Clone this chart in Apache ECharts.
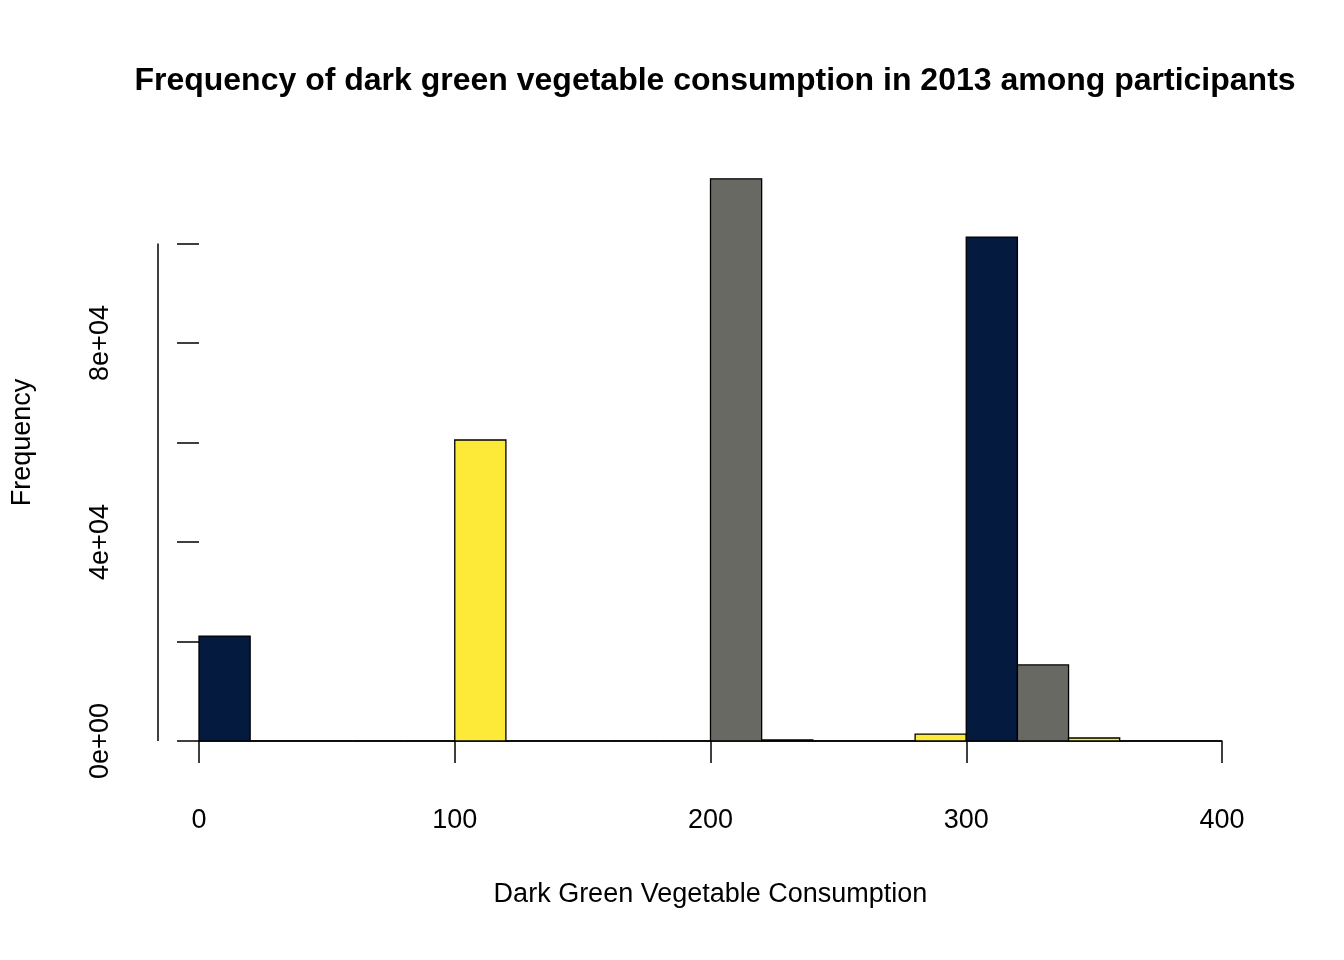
<!DOCTYPE html>
<html><head><meta charset="utf-8">
<script src="https://cdn.jsdelivr.net/npm/echarts@6/dist/echarts.min.js"></script>
<style>html,body{margin:0;padding:0;background:#fff}#c{width:1344px;height:960px}</style>
</head><body><div id="c"></div>
<script>
const binStarts = [0,20,40,60,80,100,120,140,160,180,200,220,240,260,280,300,320,340,360,380];
const binWidth = 20;
const counts = [21100,0,0,0,0,60500,0,0,0,0,113000,200,0,0,1400,101300,15300,600,0,0];
const palette = ['#041a3f','#696963','#fde937'];
const yTicks = [0,20000,40000,60000,80000,100000];
const yLabels = [0,40000,80000];
const xTicks = [0,100,200,300,400];
const fmt = v => v===0?'0e+00':(v/10000).toFixed(0)+'e+04';
const chart = echarts.init(document.getElementById('c'));
const F = 'Liberation Sans, Arial, sans-serif';
chart.setOption({
  animation:false,
  title:{text:'Frequency of dark green vegetable consumption in 2013 among participants',left:710,top:60,textAlign:'center',
    textStyle:{fontFamily:F,fontWeight:'bold',fontSize:32,color:'#000'}},
  grid:{left:199,right:122,top:144,bottom:219},
  xAxis:{type:'value',min:0,max:400,offset:22,name:'Dark Green Vegetable Consumption',nameLocation:'middle',nameGap:118,
    nameTextStyle:{fontFamily:F,fontSize:27,color:'#000'},splitLine:{show:false},
    axisLine:{lineStyle:{color:'#000',width:1.5}},
    axisTick:{customValues:xTicks,length:22,inside:false,lineStyle:{color:'#000',width:1.5}},
    axisLabel:{customValues:xTicks,fontFamily:F,fontSize:27,color:'#000',margin:44}},
  yAxis:{type:'value',min:0,max:120000,offset:41,name:'Frequency',nameLocation:'middle',nameGap:122,
    nameTextStyle:{fontFamily:F,fontSize:27,color:'#000'},splitLine:{show:false},
    axisLine:{show:false},
    axisTick:{customValues:yTicks,length:22,lineStyle:{color:'#000',width:1.5}},
    axisLabel:{customValues:yLabels,formatter:fmt,rotate:90,fontFamily:F,fontSize:27,color:'#000',margin:44}},
  series:[{
    type:'custom',
    data:binStarts.map((s,i)=>[s,counts[i],i]),
    renderItem:(p,api)=>{
      const a=api.coord([api.value(0),0]), b=api.coord([api.value(0)+binWidth,api.value(1)]);
      return {type:'rect',shape:{x:a[0],y:b[1],width:b[0]-a[0],height:a[1]-b[1]},
        style:{fill:palette[api.value(2)%3],stroke:'#000',lineWidth:1.3}};
    }
  },{
    type:'custom',
    data:[[0]],
    renderItem:(p,api)=>{
      const a=api.coord([0,0]), b=api.coord([0,100000]);
      return {type:'line',shape:{x1:a[0]-41,y1:a[1],x2:b[0]-41,y2:b[1]},style:{stroke:'#000',lineWidth:1.5}};
    }
  }]
});
</script></body></html>
